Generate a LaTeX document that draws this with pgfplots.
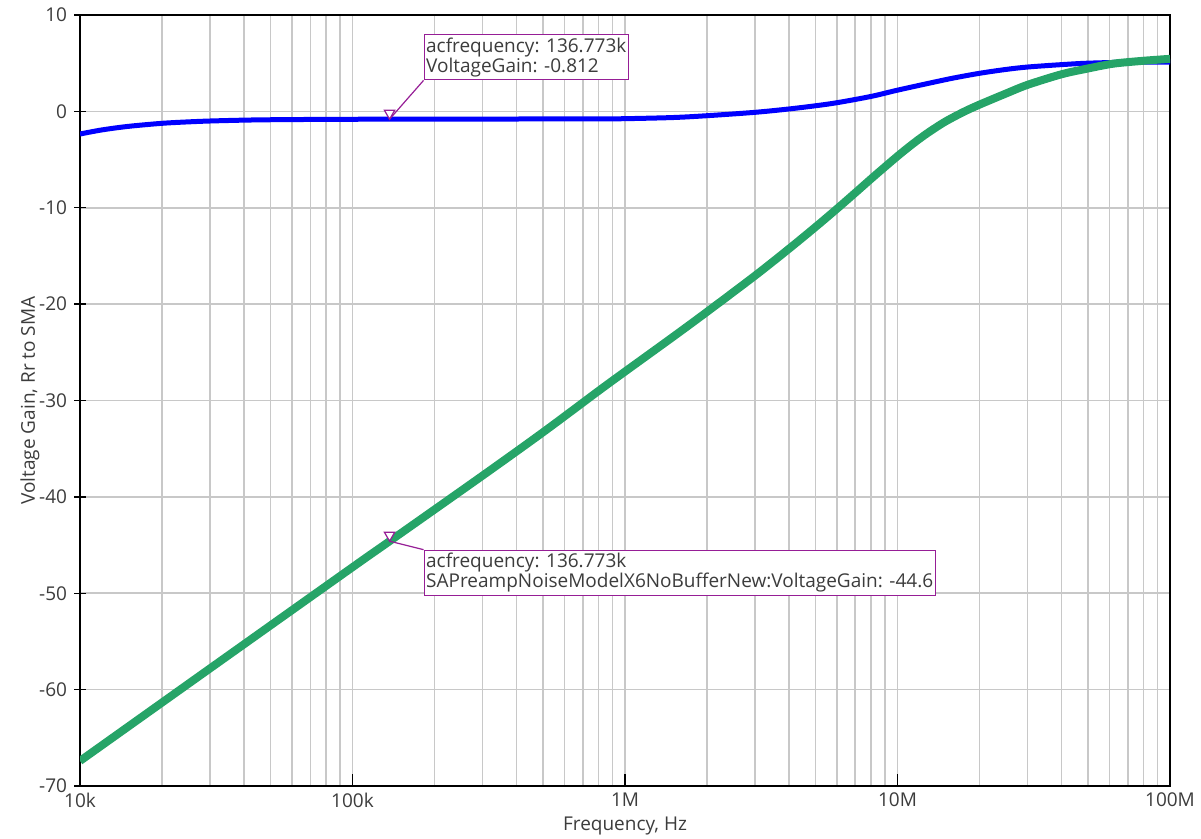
\documentclass[border=0pt]{standalone}
\usepackage{pgfplots}
\pgfplotsset{compat=1.18}
\usepackage{fontspec}
\setmainfont{Open Sans}
\definecolor{txt}{RGB}{60,60,60}
\definecolor{gridc}{RGB}{200,200,200}
\definecolor{blueline}{RGB}{0,0,255}
\definecolor{greenline}{RGB}{38,164,104}
\definecolor{annot}{RGB}{150,30,150}
\begin{document}
\begin{tikzpicture}
\begin{axis}[
  scale only axis,
  width=545pt, height=385.5pt,
  xmode=log, xmin=1e4, xmax=1e8, ymin=-70, ymax=10,
  xtick={1e4,1e5,1e6,1e7,1e8},
  xticklabels={10k,100k,1M,10M,100M},
  ytick={-70,-60,-50,-40,-30,-20,-10,0,10},
  yticklabels={-70,-60,-50,-40,-30,-20,-10,0,10},
  xmajorgrids, xminorgrids, ymajorgrids,
  major grid style={draw=gridc, line width=0.8pt},
  minor grid style={draw=gridc, line width=0.8pt},
  minor tick length=0pt,
  xtick pos=left, ytick pos=left,
  xtick align=inside, ytick align=center,
  major tick length=6pt,
  tick style={black, line width=0.7pt},
  axis line style={black, line width=0.8pt},
  font=\fontsize{9.5}{11}\selectfont,
  ticklabel style={text=txt, font=\fontsize{9.5}{11}\selectfont},
  label style={text=txt, font=\fontsize{9.5}{11}\selectfont},
  xlabel={Frequency, Hz},
  ylabel={Voltage Gain, Rr to SMA},
  xlabel style={at={(axis description cs:0.5,0)}, anchor=center, yshift=-20pt},
  ylabel style={at={(axis description cs:0,0.5)}, anchor=center, yshift=25pt},
]
\addplot[blueline, line width=2.5pt, line join=round, smooth, tension=0.5] coordinates {
(1e4,-2.35) (1.2e4,-1.93) (1.5e4,-1.56) (2e4,-1.24) (2.5e4,-1.09) (3e4,-1.0)
(4e4,-0.91) (5e4,-0.87) (7e4,-0.84) (1e5,-0.82) (1.36773e5,-0.812) (2e5,-0.80)
(5e5,-0.79) (8e5,-0.78) (1e6,-0.76) (1.5e6,-0.64) (2e6,-0.45) (3e6,-0.1)
(4e6,0.25) (5e6,0.58) (6e6,0.9) (8e6,1.55) (1e7,2.2) (1.32e7,2.95)
(1.6e7,3.45) (2e7,3.95) (2.5e7,4.35) (3e7,4.6) (4e7,4.85) (5e7,5.0)
(7e7,5.1) (1e8,5.1)
};
\addplot[greenline, line width=4pt, line join=round, smooth, tension=0.5] coordinates {
(1e4,-67.4) (3e4,-57.8) (1e5,-47.3) (1.36773e5,-44.6) (3e5,-37.8) (5e5,-33.3) (8.09e5,-28.9)
(1e6,-27.0) (1.5e6,-23.4) (2e6,-20.8) (3e6,-17.05) (4e6,-14.25) (5e6,-12.0)
(6e6,-10.1) (7e6,-8.45) (8e6,-7.0) (9e6,-5.75) (1e7,-4.65) (1.1e7,-3.7)
(1.2e7,-2.88) (1.32e7,-2.05) (1.5e7,-1.05) (1.75e7,-0.05) (2e7,0.7)
(2.5e7,1.85) (3e7,2.75) (4e7,3.85) (5e7,4.45) (6.2e7,4.95) (8e7,5.25) (1e8,5.45)
};
\addplot[only marks, mark=triangle*, mark size=3pt,
  mark options={draw=annot, fill=white, line width=0.6pt, yshift=3pt, rotate=180}]
  coordinates {(1.36773e5,-0.812) (1.36773e5,-44.6)};
\draw[annot, line width=0.6pt] (axis cs:1.36773e5,-0.812) -- ++(17pt,19.4pt)
  node[anchor=south west, draw=annot, fill=white, text=txt, align=left,
       inner xsep=1pt, inner ysep=1.5pt, line width=0.6pt,
       font=\fontsize{9.5}{10}\selectfont]
  {acfrequency: 136.773k\\VoltageGain: -0.812};
\draw[annot, line width=0.6pt] (axis cs:1.36773e5,-44.6) -- ++(17pt,-4.25pt)
  node[anchor=north west, draw=annot, fill=white, text=txt, align=left,
       inner xsep=1pt, inner ysep=1.5pt, line width=0.6pt,
       font=\fontsize{9.5}{10}\selectfont]
  {acfrequency: 136.773k\\SAPreampNoiseModelX6NoBufferNew:VoltageGain: -44.6};
\end{axis}
\pgfresetboundingbox
\useasboundingbox (-40pt,-26.5pt) rectangle (560.5pt,393pt);
\end{tikzpicture}
\end{document}
